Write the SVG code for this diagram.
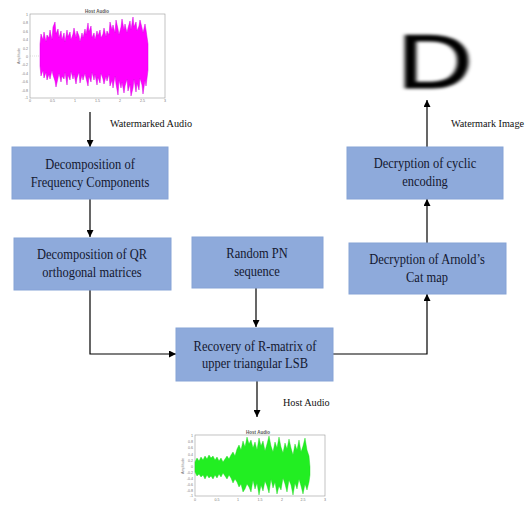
<svg xmlns="http://www.w3.org/2000/svg" width="526" height="505" viewBox="0 0 526 505">
<defs>
<marker id="ah" viewBox="0 0 10 10" refX="10" refY="5" markerWidth="7" markerHeight="7" markerUnits="userSpaceOnUse" orient="auto"><path d="M0,0 L10,5 L0,10 z" fill="#000"/></marker>
<filter id="blur" x="-20%" y="-20%" width="140%" height="140%"><feGaussianBlur stdDeviation="1.4"/></filter>
<style>
.box{fill:#8eaadb;stroke:#86a3d6;stroke-width:1}
.bt{font-family:"Liberation Serif","Times New Roman",serif;font-size:14px;fill:#141830;text-anchor:middle}
.lbl{font-family:"Liberation Serif","Times New Roman",serif;font-size:10.2px;fill:#111}
.conn{stroke:#000;stroke-width:1.2;fill:none}
.ax{fill:#fff;stroke:#999;stroke-width:0.6}
.tk{font-family:"Liberation Sans",Arial,sans-serif;font-size:3.6px;fill:#777}
.tt{font-family:"Liberation Sans",Arial,sans-serif;font-size:4.5px;fill:#555;font-weight:bold;text-anchor:middle}
</style>
</defs>
<rect width="526" height="505" fill="#fff"/>

<g id="plot-watermarked">
<rect class="ax" x="30" y="14" width="135" height="84"/>
<line x1="30" y1="56" x2="40" y2="56" stroke="#bbb" stroke-width="0.5" stroke-dasharray="1,1"/>
<polygon fill="#ff00ff" stroke="#d400e0" stroke-width="0.5" points="40,44 41,34 43,40 44,32 46,42 47,35 49,38 50,30 52,40 53,27 55,22 56,34 58,29 59,38 61,31 62,40 64,33 65,42 67,30 68,37 70,32 71,40 73,34 74,28 76,38 77,31 79,36 80,42 82,33 83,38 85,29 86,35 88,23 89,32 91,26 92,38 94,33 95,40 97,31 98,36 100,30 101,38 103,34 104,28 106,37 107,31 109,35 110,22 112,30 113,25 115,33 116,20 118,29 119,35 121,27 122,19 124,30 125,24 127,33 128,28 130,21 131,30 133,17 134,27 136,22 137,31 139,26 140,20 142,28 143,33 145,24 146,30 148,44 148,70 146,86 145,80 143,94 142,85 140,78 139,90 137,83 136,92 134,79 133,88 131,96 130,84 128,91 127,79 125,86 124,93 122,82 121,88 119,80 118,95 116,84 115,76 113,88 112,80 110,86 109,74 107,81 106,76 104,84 103,79 101,73 100,83 98,77 97,85 95,74 94,80 92,72 91,82 89,76 88,86 86,78 85,73 83,80 82,75 80,83 79,72 77,78 76,84 74,74 73,79 71,71 70,80 68,75 67,85 65,72 64,79 62,76 61,82 59,73 58,78 56,87 55,81 53,75 52,70 50,79 49,74 47,80 46,72 44,78 43,70 41,76 40,66"/>
<text class="tt" x="97" y="12.5">Host Audio</text>
<g class="tk" text-anchor="end">
<text x="28" y="16">1</text><text x="28" y="24.4">0.8</text><text x="28" y="32.8">0.6</text><text x="28" y="41.2">0.4</text><text x="28" y="49.6">0.2</text><text x="28" y="58">0</text><text x="28" y="66.4">-0.2</text><text x="28" y="74.8">-0.4</text><text x="28" y="83.2">-0.6</text><text x="28" y="91.6">-0.8</text><text x="28" y="99">-1</text>
</g>
<g class="tk" text-anchor="middle">
<text x="30" y="102">0</text><text x="52.5" y="102">0.5</text><text x="75" y="102">1</text><text x="97.5" y="102">1.5</text><text x="120" y="102">2</text><text x="142.5" y="102">2.5</text><text x="165" y="102">3</text>
</g>
<text class="tk" transform="translate(20,56) rotate(-90)" text-anchor="middle">Amplitude</text>
</g>

<g id="watermark-image">
<text x="0" y="0" transform="translate(397,88) scale(1.38,1)" font-family="'Liberation Sans',Arial,sans-serif" font-size="76" fill="#000" stroke="#000" stroke-width="1.2" filter="url(#blur)">D</text>
</g>

<g id="connectors">
<line class="conn" x1="90" y1="112" x2="90" y2="147" marker-end="url(#ah)"/>
<line class="conn" x1="90" y1="199" x2="90" y2="237" marker-end="url(#ah)"/>
<polyline class="conn" points="90,290 90,354 176,354" marker-end="url(#ah)"/>
<line class="conn" x1="256" y1="288" x2="256" y2="327" marker-end="url(#ah)"/>
<polyline class="conn" points="333,354 427,354 427,294" marker-end="url(#ah)"/>
<line class="conn" x1="427" y1="243" x2="427" y2="199" marker-end="url(#ah)"/>
<line class="conn" x1="427" y1="147" x2="427" y2="100" marker-end="url(#ah)"/>
<line class="conn" x1="257" y1="381" x2="257" y2="417" marker-end="url(#ah)"/>
<text class="lbl" x="110" y="127">Watermarked Audio</text>
<text class="lbl" x="451" y="127">Watermark Image</text>
<text class="lbl" x="283" y="406">Host Audio</text>
</g>

<g id="n-decomp-freq">
<rect class="box" x="12" y="147" width="156" height="52"/>
<g transform="translate(90,0) scale(0.89,1)">
<text class="bt" x="0" y="169">Decomposition of</text>
<text class="bt" x="0" y="187">Frequency Components</text>
</g>
</g>

<g id="n-decomp-qr">
<rect class="box" x="14" y="238" width="157" height="52"/>
<g transform="translate(92,0) scale(0.89,1)">
<text class="bt" x="0" y="259">Decomposition of QR</text>
<text class="bt" x="0" y="277">orthogonal matrices</text>
</g>
</g>

<g id="n-random-pn">
<rect class="box" x="192" y="237" width="131" height="51"/>
<g transform="translate(257,0) scale(0.89,1)">
<text class="bt" x="0" y="258">Random PN</text>
<text class="bt" x="0" y="276">sequence</text>
</g>
</g>

<g id="n-recovery">
<rect class="box" x="176" y="328" width="157" height="53"/>
<g transform="translate(255,0) scale(0.89,1)">
<text class="bt" x="0" y="351">Recovery of R-matrix of</text>
<text class="bt" x="0" y="368">upper triangular LSB</text>
</g>
</g>

<g id="n-arnold">
<rect class="box" x="349" y="243" width="157" height="51"/>
<g transform="translate(427,0) scale(0.89,1)">
<text class="bt" x="0" y="264">Decryption of Arnold’s</text>
<text class="bt" x="0" y="282">Cat map</text>
</g>
</g>

<g id="n-cyclic">
<rect class="box" x="347" y="147" width="156" height="52"/>
<g transform="translate(425,0) scale(0.89,1)">
<text class="bt" x="0" y="168">Decryption of cyclic</text>
<text class="bt" x="0" y="186">encoding</text>
</g>
</g>

<g id="plot-host">
<rect class="ax" x="195" y="435" width="130" height="61"/>
<polygon fill="#22ee22" stroke="#1ad41a" stroke-width="0.4" points="195,462 197,458 199,461 201,457 203,460 205,456 207,459 209,455 211,458 213,456 215,460 217,457 219,461 221,458 223,462 225,459 227,456 229,459 231,455 233,452 235,456 237,449 239,445 241,450 243,441 245,447 247,437 249,444 251,440 253,448 255,442 257,450 259,438 261,446 263,441 265,451 267,444 269,436 271,446 273,452 275,442 277,448 279,437 281,447 283,453 285,443 287,449 289,439 291,448 293,455 295,444 297,450 299,440 301,452 303,446 305,438 307,450 309,456 310,467 310,475 309,482 307,490 305,484 303,494 301,486 299,479 297,489 295,483 293,495 291,485 289,480 287,492 285,484 283,478 281,490 279,486 277,494 275,482 273,488 271,479 269,493 267,486 265,481 263,491 261,485 259,495 257,483 255,489 253,480 251,492 249,487 247,484 245,489 243,492 241,484 239,487 237,482 235,479 233,483 231,478 229,475 227,479 225,476 223,473 221,477 219,474 217,478 215,475 213,479 211,476 209,478 207,475 205,479 203,475 201,477 199,474 197,476 195,472"/>
<text class="tt" x="258" y="433.5">Host Audio</text>
<g class="tk" text-anchor="end">
<text x="193" y="437">1</text><text x="193" y="443">0.8</text><text x="193" y="449">0.6</text><text x="193" y="455.5">0.4</text><text x="193" y="461.5">0.2</text><text x="193" y="467.5">0</text><text x="193" y="473.5">-0.2</text><text x="193" y="479.5">-0.4</text><text x="193" y="486">-0.6</text><text x="193" y="492">-0.8</text><text x="193" y="497">-1</text>
</g>
<g class="tk" text-anchor="middle">
<text x="195" y="500.5">0</text><text x="217" y="500.5">0.5</text><text x="238" y="500.5">1</text><text x="260" y="500.5">1.5</text><text x="282" y="500.5">2</text><text x="303" y="500.5">2.5</text><text x="325" y="500.5">3</text>
</g>
<text class="tk" transform="translate(184,466) rotate(-90)" text-anchor="middle">Amplitude</text>
</g>
</svg>
